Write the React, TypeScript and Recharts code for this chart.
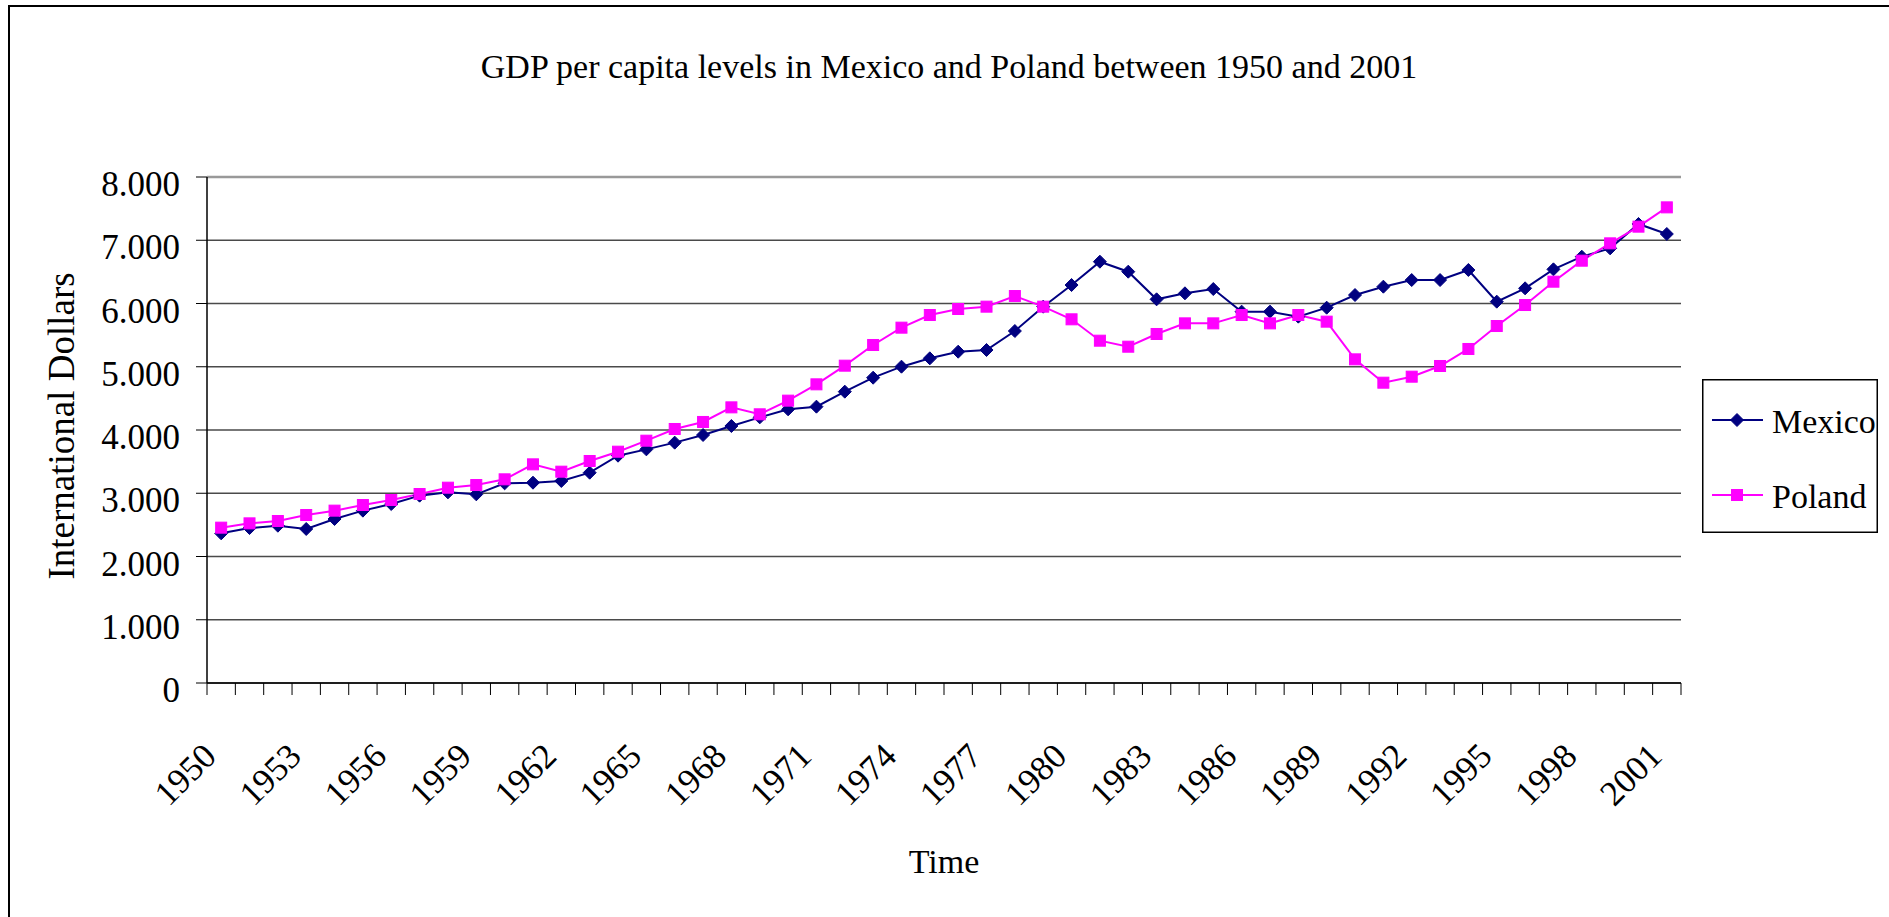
import { LineChart, Line, XAxis, YAxis, CartesianGrid, Legend, ReferenceLine } from 'recharts';

const years = [
  '1950', '1951', '1952', '1953', '1954', '1955', '1956', '1957', '1958', '1959',
  '1960', '1961', '1962', '1963', '1964', '1965', '1966', '1967', '1968', '1969',
  '1970', '1971', '1972', '1973', '1974', '1975', '1976', '1977', '1978', '1979',
  '1980', '1981', '1982', '1983', '1984', '1985', '1986', '1987', '1988', '1989',
  '1990', '1991', '1992', '1993', '1994', '1995', '1996', '1997', '1998', '1999',
  '2000', '2001',
];

const mexico = [
  2366, 2450, 2487, 2435, 2593, 2725, 2830, 2962, 3014, 2983,
  3157, 3167, 3194, 3325, 3594, 3694, 3800, 3921, 4063, 4200,
  4327, 4369, 4606, 4827, 5001, 5133, 5238, 5265, 5565, 5950,
  6292, 6661, 6503, 6066, 6161, 6229, 5871, 5871, 5792, 5934,
  6134, 6266, 6371, 6371, 6530, 6029, 6240, 6540, 6740, 6872,
  7257, 7099,
];

const poland = [
  2456, 2524, 2561, 2656, 2725, 2814, 2893, 2988, 3088, 3130,
  3220, 3457, 3341, 3510, 3657, 3831, 4016, 4127, 4358, 4248,
  4464, 4722, 5017, 5344, 5618, 5818, 5913, 5950, 6118, 5950,
  5750, 5412, 5317, 5518, 5686, 5686, 5818, 5686, 5818, 5713,
  5117, 4748, 4843, 5012, 5281, 5644, 5976, 6345, 6677, 6951,
  7215, 7520,
];

const yTicks = [0, 1000, 2000, 3000, 4000, 5000, 6000, 7000, 8000];

const data = years.map((year, i) => ({ year, Mexico: mexico[i], Poland: poland[i] }));

const FONT = "'Liberation Serif', 'Times New Roman', serif";
const W = 1889;
const H = 917;
const PLOT_LEFT = 207;
const PLOT_RIGHT = 1681;
const PLOT_TOP = 177;
const PLOT_BOTTOM = 683;
const Y_AXIS_W = 150;
const X_AXIS_H = 200;
const BAND = (PLOT_RIGHT - PLOT_LEFT) / years.length;

const MEXICO_COLOR = '#000080';
const POLAND_COLOR = '#FF00FF';

const fmtThousands = (v: number) => (v === 0 ? '0' : `${v / 1000}.000`);

const YTick = ({ x, y, payload }: any) => (
  <text x={x} y={y} dy={19} textAnchor="end" fontFamily={FONT} fontSize={35} fill="#000">
    {fmtThousands(payload.value)}
  </text>
);

const XTick = ({ x, y, payload, index }: any) => {
  const ax = x - 3;
  const ay = y + 75;
  return (
    <g>
      <line x1={x - BAND / 2} x2={x - BAND / 2} y1={y} y2={y + 12} stroke="#000" strokeWidth={1} />
      {index === years.length - 1 && (
        <line x1={x + BAND / 2} x2={x + BAND / 2} y1={y} y2={y + 12} stroke="#000" strokeWidth={1} />
      )}
      {index % 3 === 0 && (
        <text
          x={ax}
          y={ay}
          transform={`rotate(-45 ${ax} ${ay})`}
          textAnchor="end"
          fontFamily={FONT}
          fontSize={35}
          fill="#000"
        >
          {payload.value}
        </text>
      )}
    </g>
  );
};

const Diamond = ({ cx, cy }: any) => {
  if (cx == null || cy == null) return null;
  const r = 6.5;
  return (
    <path
      d={`M${cx},${cy - r} L${cx + r},${cy} L${cx},${cy + r} L${cx - r},${cy} Z`}
      fill={MEXICO_COLOR}
      stroke={MEXICO_COLOR}
    />
  );
};

const Square = ({ cx, cy }: any) => {
  if (cx == null || cy == null) return null;
  const r = 5.5;
  return <rect x={cx - r} y={cy - r} width={r * 2} height={r * 2} fill={POLAND_COLOR} stroke={POLAND_COLOR} />;
};

const YLabel = () => (
  <text
    x={74}
    y={426}
    transform="rotate(-90 74 426)"
    textAnchor="middle"
    fontFamily={FONT}
    fontSize={37}
    fill="#000"
  >
    International Dollars
  </text>
);

const XLabel = () => (
  <text x={944} y={873} textAnchor="middle" fontFamily={FONT} fontSize={34} fill="#000">
    Time
  </text>
);

const LegendBox = () => (
  <svg width={176} height={154} style={{ display: 'block' }}>
    <rect x={0.75} y={0.75} width={174.5} height={152.5} fill="#fff" stroke="#000" strokeWidth={1.5} />
    <line x1={10} x2={61} y1={41} y2={41} stroke={MEXICO_COLOR} strokeWidth={2} />
    <Diamond cx={35} cy={41} />
    <text x={70} y={54} fontFamily={FONT} fontSize={34} fill="#000">Mexico</text>
    <line x1={10} x2={61} y1={116} y2={116} stroke={POLAND_COLOR} strokeWidth={2} />
    <Square cx={35} cy={116} />
    <text x={70} y={129} fontFamily={FONT} fontSize={34} fill="#000">Poland</text>
  </svg>
);

export default function App() {
  return (
    <div style={{ position: 'fixed', left: 0, top: 0, width: W, height: H, background: '#fff' }}>
      <div
        style={{
          position: 'absolute',
          left: 8,
          top: 5,
          width: W - 8,
          height: H - 5,
          borderLeft: '2px solid #000',
          borderTop: '2.5px solid #000',
          boxSizing: 'border-box',
        }}
      />
      <svg width={W} height={120} style={{ position: 'absolute', left: 0, top: 0 }}>
        <text x={949} y={78} textAnchor="middle" fontFamily={FONT} fontSize={34} fill="#000">
          GDP per capita levels in Mexico and Poland between 1950 and 2001
        </text>
      </svg>
      <div style={{ position: 'absolute', left: 0, top: 0 }}>
        <LineChart
          width={W}
          height={H}
          data={data}
          margin={{
            top: PLOT_TOP,
            right: W - PLOT_RIGHT,
            bottom: H - PLOT_BOTTOM - X_AXIS_H,
            left: PLOT_LEFT - Y_AXIS_W,
          }}
        >
          <CartesianGrid vertical={false} stroke="#4a4a4a" strokeWidth={1.5} />
          <ReferenceLine y={8000} stroke="#999" strokeWidth={2.5} />
          <XAxis
            dataKey="year"
            scale="band"
            interval={0}
            height={X_AXIS_H}
            tickSize={0}
            tickMargin={0}
            tickLine={false}
            axisLine={{ stroke: '#000', strokeWidth: 1.5 }}
            tick={<XTick />}
            label={<XLabel />}
          />
          <YAxis
            domain={[0, 8000]}
            ticks={yTicks}
            interval={0}
            width={Y_AXIS_W}
            tickSize={11}
            tickMargin={16}
            tickLine={{ stroke: '#000' }}
            axisLine={{ stroke: '#000', strokeWidth: 1.5 }}
            tick={<YTick />}
            label={<YLabel />}
          />
          <YAxis
            yAxisId="right"
            orientation="right"
            domain={[0, 8000]}
            width={0}
            tick={false}
            tickLine={false}
            axisLine={{ stroke: '#888', strokeWidth: 1.5 }}
          />
          <Legend
            layout="vertical"
            align="center"
            verticalAlign="middle"
            wrapperStyle={{ left: 1702, top: 379, width: 176, height: 154 }}
            content={<LegendBox />}
          />
          <Line
            type="linear"
            dataKey="Mexico"
            stroke={MEXICO_COLOR}
            strokeWidth={2}
            dot={<Diamond />}
            activeDot={false}
            isAnimationActive={false}
          />
          <Line
            type="linear"
            dataKey="Poland"
            stroke={POLAND_COLOR}
            strokeWidth={2}
            dot={<Square />}
            activeDot={false}
            isAnimationActive={false}
          />
        </LineChart>
      </div>
    </div>
  );
}
